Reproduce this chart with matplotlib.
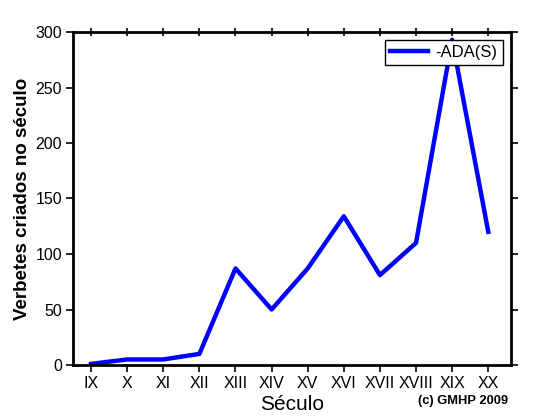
import matplotlib
matplotlib.use("Agg")
import matplotlib.pyplot as plt

# Verbetes criados por século
seculos = ["IX", "X", "XI", "XII", "XIII", "XIV", "XV", "XVI", "XVII", "XVIII", "XIX", "XX"]
verbetes = [1, 5, 5, 10, 87, 50, 87, 134, 81, 110, 293, 120]

plt.rcParams["font.family"] = ["Liberation Sans", "DejaVu Sans"]

fig = plt.figure(figsize=(5.6, 4.2), dpi=100)
ax = fig.add_axes([73 / 560, 1 - 365 / 420, (511 - 73) / 560, (365 - 32) / 420])

x = list(range(len(seculos)))
ax.plot(x, verbetes, color="#0000ff", lw=3.2, label="-ADA(S)")

ax.set_xlim(-0.5, 11.63)
ax.set_ylim(0, 300)
ax.set_xticks(x)
ax.set_xticklabels(seculos)
ax.set_yticks(range(0, 301, 50))
ax.tick_params(direction="out", length=5, width=1.2, labelsize=11.5, pad=3)
ax.tick_params(axis="x", top=True)
ax.tick_params(axis="y", right=True)
for t in ax.xaxis.get_major_ticks():
    t.tick2line.set_marker("|")
    t.tick2line.set_markersize(6)
for s in ax.spines.values():
    s.set_linewidth(2)

ax.set_ylabel("Verbetes criados no século", fontsize=13.5, fontweight="bold", labelpad=3)
ax.set_xlabel("Século", fontsize=15, labelpad=3)

leg = ax.legend(loc="upper right", fontsize=12, handlelength=2.3, handletextpad=0.45,
                fancybox=False, framealpha=1, edgecolor="black",
                borderaxespad=0.5, borderpad=0.3)
leg.get_frame().set_linewidth(1)

fig.text(0.907, 0.037, "(c) GMHP 2009", ha="right", fontsize=9.3, fontweight="bold")

fig.savefig("out.png", dpi=100)
